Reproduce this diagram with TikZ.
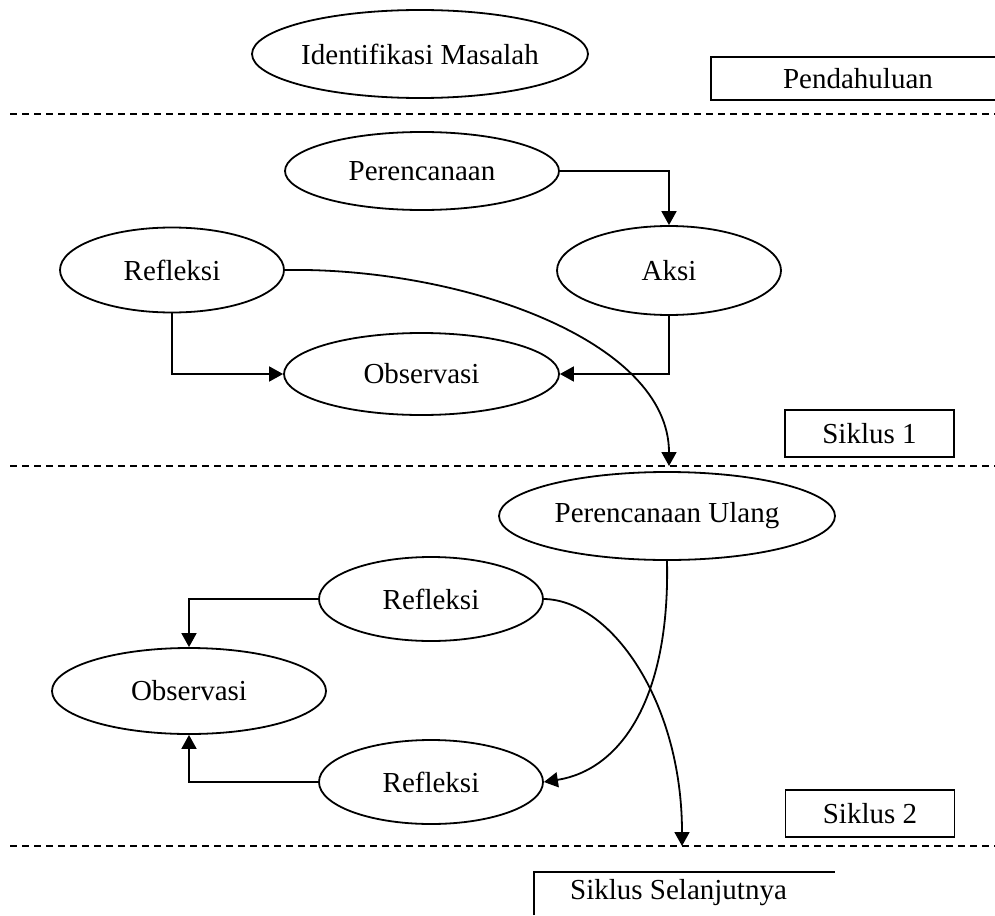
\documentclass[tikz,border=0pt]{standalone}
\usepackage{fontspec}
\setmainfont{Liberation Serif}
\usetikzlibrary{shapes.geometric,arrows.meta,calc}
\begin{document}
\begin{tikzpicture}[x=0.5pt,y=-0.5pt,
  line width=0.9pt,
  txt/.style={font=\fontsize{14.5}{17}\selectfont,inner sep=0pt},
  oval/.style={draw,ellipse,txt},
  tag/.style={draw,rectangle,txt},
  arr/.style={-{Triangle[length=7pt,width=7.5pt]}},
  sep/.style={dash pattern=on 3.5pt off 2.5pt}]
\useasboundingbox (0,0) rectangle (995,915);

% separators
\coordinate (s1a) at (10,114);  \coordinate (s1b) at (995,114);
\coordinate (s2a) at (10,466);  \coordinate (s2b) at (995,466);
\coordinate (s3a) at (10,846);  \coordinate (s3b) at (995,846);
\draw[sep] (s1a) -- (s1b);
\draw[sep] (s2a) -- (s2b);
\draw[sep] (s3a) -- (s3b);

% header
\node[oval,minimum width=150pt,minimum height=44pt] (idm) at (420,54) {Identifikasi Masalah};
\node[txt] (pend) at (858,79) {Pendahuluan};
\draw (995,57) -- (711,57) -- (711,100) -- (995,100);

% cycle 1
\node[oval,minimum width=137pt,minimum height=39pt] (per) at (422,171) {Perencanaan};
\node[oval,minimum width=112pt,minimum height=44.5pt] (aksi) at (669,270.5) {Aksi};
\node[oval,minimum width=112pt,minimum height=42.5pt] (ref1) at (172,270) {Refleksi};
\node[oval,minimum width=137.5pt,minimum height=41pt] (obs1) at (421.5,374) {Observasi};
\node[tag,minimum width=84.5pt,minimum height=23.5pt] (sik1) at (869.5,433.5) {Siklus 1};

\draw[arr] (per.east) -| (aksi.north);
\draw[arr] (aksi.south) |- (obs1.east);
\draw[arr] (ref1.south) |- (obs1.west);
\coordinate (c1end) at (669,466);
\draw[arr] (ref1.east) .. controls (460,267) and (669,340) .. (c1end);

% cycle 2
\node[oval,minimum width=168pt,minimum height=44pt] (pu) at (667,516) {Perencanaan Ulang};
\node[oval,minimum width=112pt,minimum height=42pt] (ref2a) at (431,599) {Refleksi};
\node[oval,minimum width=137pt,minimum height=43pt] (obs2) at (189,691) {Observasi};
\node[oval,minimum width=112pt,minimum height=42pt] (ref2b) at (431,782) {Refleksi};
\node[tag,minimum width=84.5pt,minimum height=23.5pt] (sik2) at (870,813.5) {Siklus 2};

\draw[arr] (ref2a.west) -| (obs2.north);
\draw[arr] (ref2b.west) -| (obs2.south);
\draw[arr] (pu.south) .. controls (670,700) and (620,770) .. (ref2b.east);
\coordinate (c2end) at (682,846);
\draw[arr] (ref2a.east) .. controls (610,600) and (682,700) .. (c2end);

% next cycle
\node[txt] (next) at (678.5,893) {Siklus Selanjutnya};
\draw (534,915) -- (534,872) -- (835,872);
\end{tikzpicture}
\end{document}
